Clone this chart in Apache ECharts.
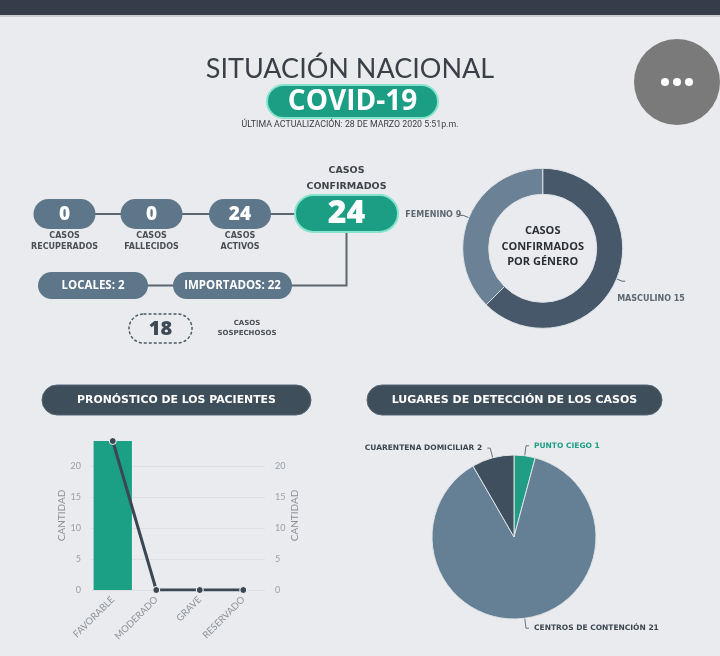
<!DOCTYPE html>
<html><head><meta charset="utf-8">
<script src="https://cdn.jsdelivr.net/npm/echarts@6/dist/echarts.min.js"></script>
<style>html,body{margin:0;padding:0;background:#e9ebee}#c{width:720px;height:656px}</style>
</head><body><div id="c"></div>
<script>
const titleText = 'SITUACIÓN NACIONAL';
const badgeText = 'COVID-19';
const updateText = 'ÚLTIMA ACTUALIZACIÓN: 28 DE MARZO 2020 5:51p.m.';
const statusLabels = ['CASOS\nRECUPERADOS', 'CASOS\nFALLECIDOS', 'CASOS\nACTIVOS'];
const statusValues = [0, 0, 24];
const confirmedLabel = 'CASOS\nCONFIRMADOS';
const confirmedValue = 24;
const originLabels = ['LOCALES', 'IMPORTADOS'];
const originValues = [2, 22];
const suspectedLabel = 'CASOS\nSOSPECHOSOS';
const suspectedValue = 18;
const genderNames = ['MASCULINO', 'FEMENINO'];
const genderValues = [15, 9];
const genderCenter = 'CASOS\nCONFIRMADOS\nPOR GÉNERO';
const prognosisTitle = 'PRONÓSTICO DE LOS PACIENTES';
const prognosisCats = ['FAVORABLE', 'MODERADO', 'GRAVE', 'RESERVADO'];
const prognosisValues = [24, 0, 0, 0];
const axisName = 'CANTIDAD';
const placesTitle = 'LUGARES DE DETECCIÓN DE LOS CASOS';
const placeNames = ['PUNTO CIEGO', 'CENTROS DE CONTENCIÓN', 'CUARENTENA DOMICILIAR'];
const placeValues = [1, 21, 2];

const BG = '#e9ebee';
const PILL = '#5e7689';
const GREEN = '#1b9e84';
const DARK = '#3f4e5b';
const LINE = '#5a6570';
const SMALL = '700 8px "DejaVu Sans"';

const G = [];
function txt(x, y, text, font, fill, lh) {
  G.push({type: 'text', x: x, y: y, z: 20, style: {text: text, font: font, fill: fill, align: 'center', verticalAlign: 'middle', lineHeight: lh || null}});
}
function pill(cx, cy, w, h, fill, stroke, lw, dash) {
  G.push({type: 'rect', z: 10, shape: {x: cx - w / 2, y: cy - h / 2, width: w, height: h, r: h / 2},
    style: {fill: fill, stroke: stroke || null, lineWidth: lw || 0, lineDash: dash || null}});
}
// top bar
G.push({type: 'rect', shape: {x: 0, y: 0, width: 720, height: 15}, style: {fill: '#343d49'}});
G.push({type: 'rect', shape: {x: 0, y: 15, width: 720, height: 2}, style: {fill: '#c9cdd2'}});
// title
txt(350, 69, titleText, '400 27px Lato', '#3b4048');
pill(352.5, 101.5, 171, 33, GREEN, '#86e3cd', 2);
txt(352.5, 102, badgeText, '700 28px "Open Sans"', '#ffffff');
txt(350, 124.5, updateText, '8.8px Roboto', '#3a3d42');
// menu button
G.push({type: 'circle', shape: {cx: 677, cy: 82, r: 43}, style: {fill: '#7a7a7a'}});
[665, 677, 689].forEach(function (x) { G.push({type: 'circle', z: 5, shape: {cx: x, cy: 82, r: 4}, style: {fill: '#ffffff'}}); });

// connectors
G.push({type: 'polyline', z: 5, shape: {points: [[64, 214], [346.5, 214]]}, style: {stroke: LINE, lineWidth: 2, fill: null}});
G.push({type: 'polyline', z: 5, shape: {points: [[93, 285.5], [346.5, 285.5], [346.5, 214]]}, style: {stroke: LINE, lineWidth: 2, fill: null}});

// status pills
const statusX = [64.5, 151.5, 240];
statusValues.forEach(function (v, i) {
  pill(statusX[i], 214, 62, 30, PILL);
  txt(statusX[i], 214.5, String(v), '800 19px "Open Sans"', '#ffffff');
  txt(statusX[i], 241, statusLabels[i], SMALL, '#4a4f55', 11);
});
// confirmed
pill(346.5, 213.5, 103, 37, GREEN, '#86e3cd', 2);
txt(346.5, 214, String(confirmedValue), '800 32px "Open Sans"', '#ffffff');
txt(346.5, 178.5, confirmedLabel, '700 9.5px "DejaVu Sans"', '#3f444a', 16);
// origin
const originX = [93, 232.5], originW = [110, 119];
originValues.forEach(function (v, i) {
  pill(originX[i], 285.5, originW[i], 27, PILL);
  txt(originX[i], 286, originLabels[i] + ': ' + v, '700 11.5px "Open Sans"', '#ffffff');
});
// suspected
pill(160.5, 328.5, 63, 29, BG, '#4f5b65', 1.5, [3, 2]);
txt(160.5, 329, String(suspectedValue), '800 20px "Open Sans"', '#3d4a55');
txt(247, 328, suspectedLabel, '700 7px "DejaVu Sans"', '#4a4f55', 10);
// donut centre
txt(542.7, 246.5, genderCenter, '700 11px "Open Sans"', '#2b2f34', 15.5);
// section headers
pill(176.5, 400, 269, 30, DARK, '#56667a', 1);
txt(176.5, 400.5, prognosisTitle, '700 10.9px "DejaVu Sans"', '#ffffff');
pill(514.5, 400, 295, 30, DARK, '#56667a', 1);
txt(514.5, 400.5, placesTitle, '700 11px "DejaVu Sans"', '#ffffff');

const yAxisBase = {
  type: 'value', min: 0, max: 24, interval: 5,
  name: axisName, nameLocation: 'middle', nameRotate: 90,
  nameTextStyle: {color: '#8a9097', fontSize: 10, fontFamily: 'Lato'},
  axisLine: {show: false}, axisTick: {show: false},
  axisLabel: {color: '#9aa0a6', fontSize: 9, fontFamily: 'Lato', showMaxLabel: false, margin: 10}
};

const chart = echarts.init(document.getElementById('c'));
chart.setOption({
  backgroundColor: BG,
  animation: false,
  graphic: G,
  grid: {left: 91, right: 455, top: 441, bottom: 66},
  xAxis: {
    type: 'category', data: prognosisCats,
    axisLine: {show: false}, axisTick: {show: false},
    axisLabel: {rotate: 45, fontSize: 9.5, color: '#8e949a', fontFamily: 'Lato', margin: 8, interval: 0}
  },
  yAxis: [
    Object.assign({}, yAxisBase, {position: 'left', nameGap: 22, splitLine: {show: true, showMaxLine: false, lineStyle: {color: '#dcdfe3'}}}),
    Object.assign({}, yAxisBase, {position: 'right', nameGap: 22, splitLine: {show: false}})
  ],
  series: [
    {
      type: 'bar', data: prognosisValues, barWidth: '88%', yAxisIndex: 0,
      itemStyle: {color: '#1ba085'}
    },
    {
      type: 'line', data: prognosisValues, yAxisIndex: 1, z: 5,
      symbol: 'circle', symbolSize: 7,
      lineStyle: {color: '#3b4753', width: 3},
      itemStyle: {color: '#3b4753', borderColor: '#ffffff', borderWidth: 1}
    },
    {
      type: 'pie', center: [542.7, 248.3], radius: [54, 80], startAngle: 90, clockwise: true,
      data: genderNames.map(function (n, i) { return {name: n, value: genderValues[i]}; }),
      color: ['#46586a', '#6a8196'],
      itemStyle: {borderColor: '#dfe3e7', borderWidth: 1},
      label: {formatter: '{b} {c}', fontSize: 8, fontWeight: 'bold', fontFamily: 'DejaVu Sans', color: '#5d6873'},
      labelLine: {length: 6, length2: 3, lineStyle: {color: '#5d6873', width: 1}},
      labelLayout: function (p) { return p.dataIndex === 0 ? {dx: -13, dy: 18} : {dx: 6}; }
    },
    {
      type: 'pie', center: [514, 537], radius: [0, 82], startAngle: 90, clockwise: true,
      data: placeNames.map(function (n, i) {
        return {name: n, value: placeValues[i], label: {color: i === 0 ? '#1f9e85' : '#3d4650'}};
      }),
      color: ['#1f9e85', '#657f95', '#3f4f5d'],
      itemStyle: {borderColor: '#dfe3e7', borderWidth: 1},
      label: {formatter: '{b} {c}', fontSize: 7.5, fontWeight: 'bold', fontFamily: 'DejaVu Sans'},
      labelLine: {length: 10, length2: 3, lineStyle: {color: '#6b747d', width: 1}}
    }
  ]
});
</script></body></html>
